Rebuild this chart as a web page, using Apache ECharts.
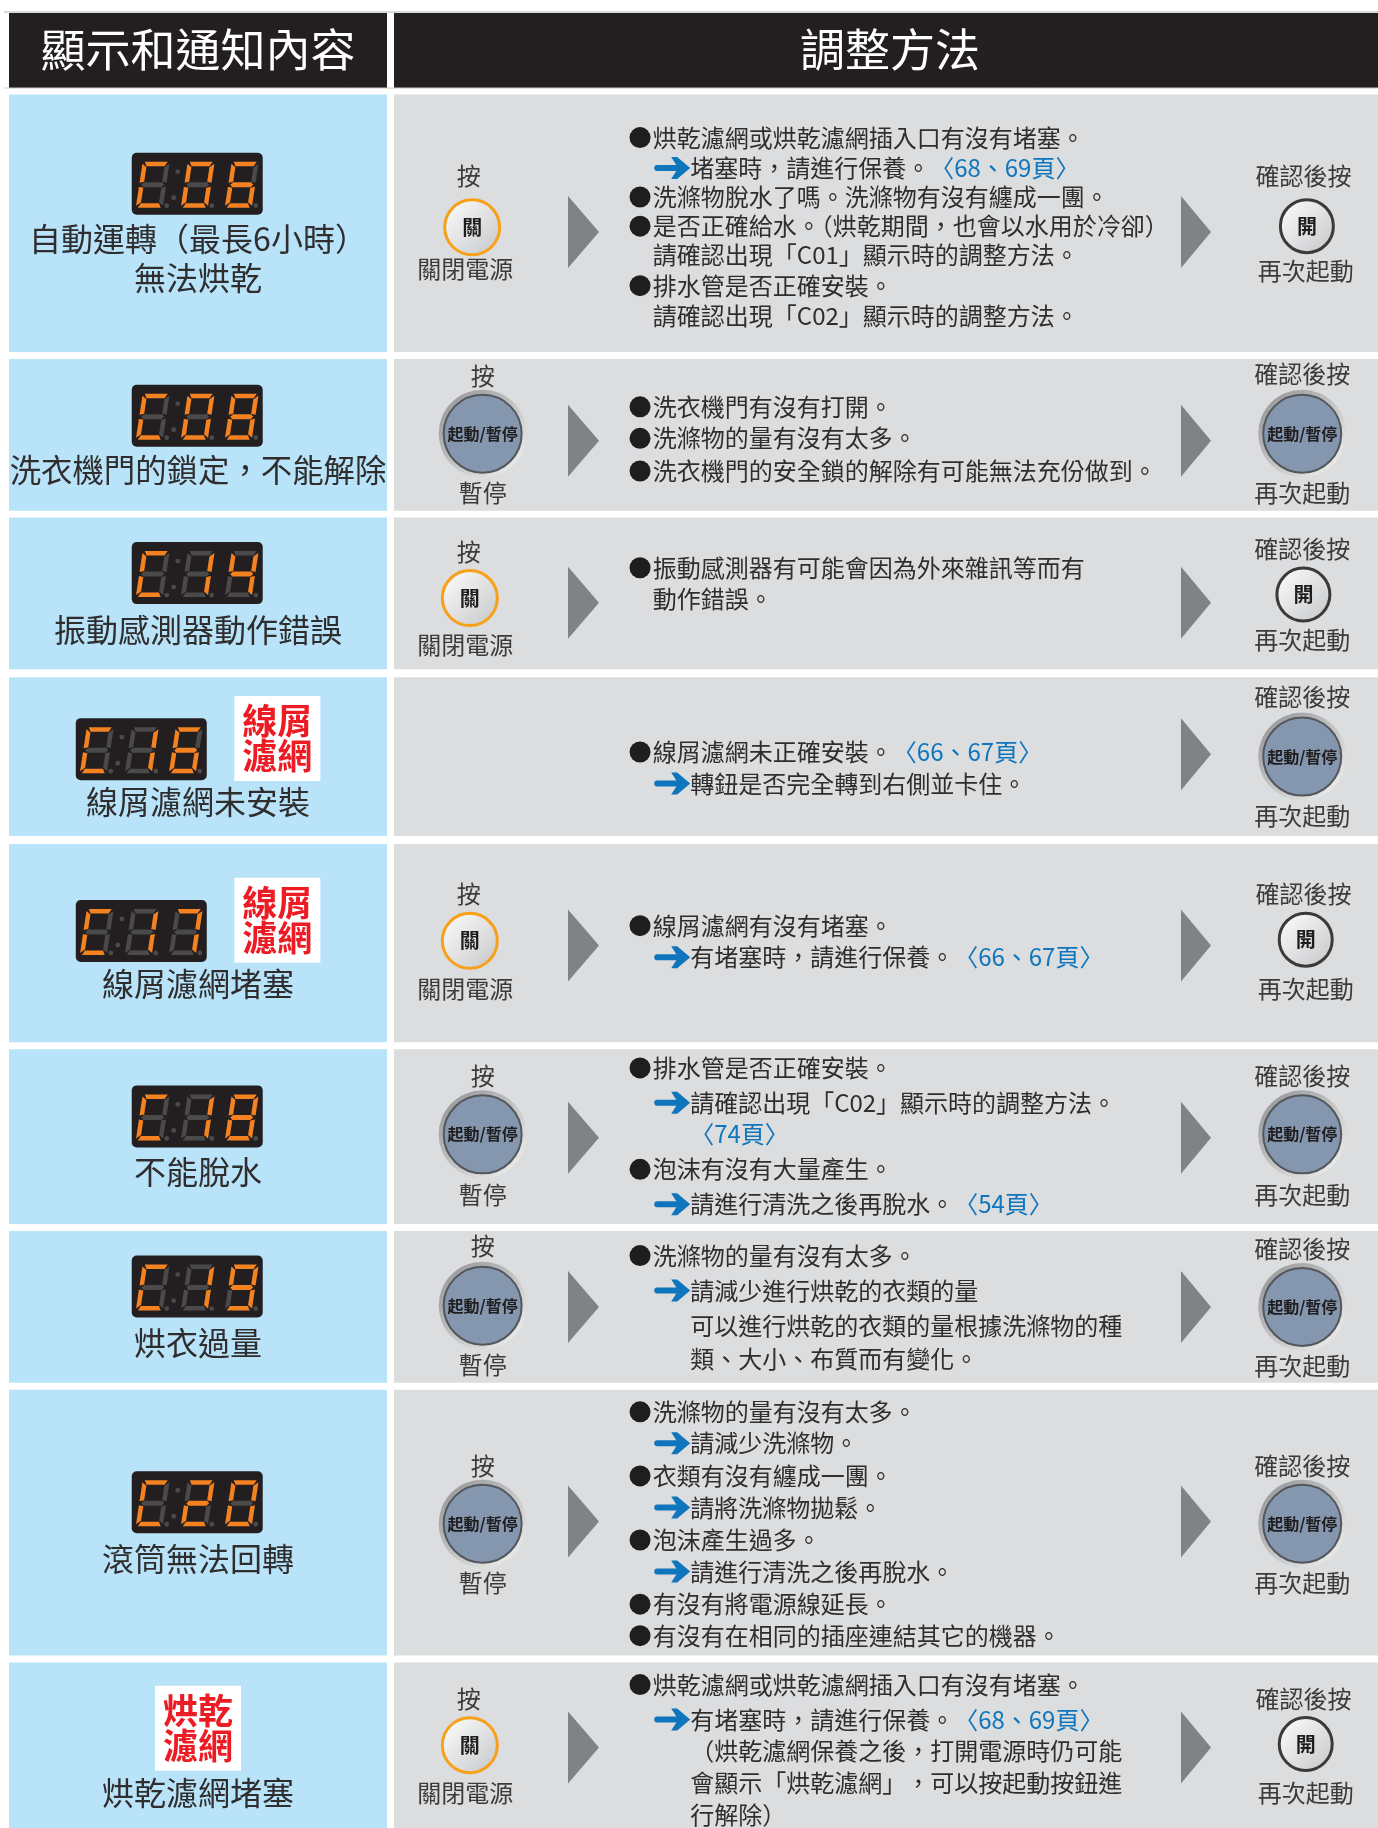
<!DOCTYPE html>
<html>
<head>
<meta charset="utf-8">
<title>顯示和通知內容</title>
<style>
html,body{margin:0;padding:0;background:#fff;}
#main{width:1378px;height:1828px;}
</style>
<script src="https://cdn.jsdelivr.net/npm/echarts@6/dist/echarts.min.js"></script>
</head>
<body>
<div id="main"></div>
<script>
// 表格內容
var headerTitles = ['顯示和通知內容', '調整方法'];
var statusCodes = ['C06', 'C08', 'C14', 'C16', 'C17', 'C18', 'C19', 'C20', null];
var statusLabels = [
    ['自動運轉（最長6小時）', '無法烘乾'],
    ['洗衣機門的鎖定，不能解除'],
    ['振動感測器動作錯誤'],
    ['線屑濾網未安裝'],
    ['線屑濾網堵塞'],
    ['不能脫水'],
    ['烘衣過量'],
    ['滾筒無法回轉'],
    ['烘乾濾網堵塞']
];
var badgeLines = [null, null, null, ['線屑', '濾網'], ['線屑', '濾網'], null, null, null, ['烘乾', '濾網']];
var stepBefore = ['off', 'pause', 'off', null, 'off', 'pause', 'pause', 'pause', 'off'];
var stepAfter = ['on', 'start', 'on', 'start', 'on', 'start', 'start', 'start', 'on'];
var stepTexts = {
    off: ['按', '關', '關閉電源'],
    pause: ['按', '起動/暫停', '暫停'],
    on: ['確認後按', '開', '再次起動'],
    start: ['確認後按', '起動/暫停', '再次起動']
};
// ● 項目  → 箭頭  全形空白 = 對齊箭頭後的文字
var adviceLines = [
    ['●烘乾濾網或烘乾濾網插入口有沒有堵塞。', '→堵塞時，請進行保養。〈68、69頁〉', '●洗滌物脫水了嗎。洗滌物有沒有纏成一團。', '●是否正確給水。（烘乾期間，也會以水用於冷卻）', '請確認出現「C01」顯示時的調整方法。', '●排水管是否正確安裝。', '請確認出現「C02」顯示時的調整方法。'],
    ['●洗衣機門有沒有打開。', '●洗滌物的量有沒有太多。', '●洗衣機門的安全鎖的解除有可能無法充份做到。'],
    ['●振動感測器有可能會因為外來雜訊等而有', '動作錯誤。'],
    ['●線屑濾網未正確安裝。〈66、67頁〉', '→轉鈕是否完全轉到右側並卡住。'],
    ['●線屑濾網有沒有堵塞。', '→有堵塞時，請進行保養。〈66、67頁〉'],
    ['●排水管是否正確安裝。', '→請確認出現「C02」顯示時的調整方法。', '　〈74頁〉', '●泡沫有沒有大量產生。', '→請進行清洗之後再脫水。〈54頁〉'],
    ['●洗滌物的量有沒有太多。', '→請減少進行烘乾的衣類的量', '　可以進行烘乾的衣類的量根據洗滌物的種', '　類、大小、布質而有變化。'],
    ['●洗滌物的量有沒有太多。', '→請減少洗滌物。', '●衣類有沒有纏成一團。', '→請將洗滌物拋鬆。', '●泡沫產生過多。', '→請進行清洗之後再脫水。', '●有沒有將電源線延長。', '●有沒有在相同的插座連結其它的機器。'],
    ['●烘乾濾網或烘乾濾網插入口有沒有堵塞。', '→有堵塞時，請進行保養。〈68、69頁〉', '　（烘乾濾網保養之後，打開電源時仍可能', '　會顯示「烘乾濾網」，可以按起動按鈕進', '　行解除）']
];
var digitSegments = {
    'C': 'adef', '0': 'abcdef', '1': 'bc', '2': 'abdeg', '4': 'bcfg',
    '6': 'acdefg', '7': 'abc', '8': 'abcdefg', '9': 'abcdfg'
};

// 版面（以 1182 寬的座標量測）
var K = 1378 / 1182;
var rowBands = [[81, 302], [308, 438], [444, 574], [581, 717], [724, 894], [900, 1050], [1056, 1186], [1192, 1420], [1426, 1568]];
var lineYs = [
    [118, 144, 169, 194, 219, 245, 271],
    [349, 376, 404],
    [487, 514],
    [645, 672],
    [794, 821],
    [916, 946, 973, 1003, 1033],
    [1077, 1107, 1137, 1166],
    [1211, 1238, 1266, 1293, 1321, 1348, 1376, 1403],
    [1445, 1475, 1502, 1529, 1557]
];
var arrowYs = [199, 378, 517, 647, 811, 976, 1121, 1305, 1499];
var displayPos = [[113, 131], [113, 330], [113, 465], [65, 616], [65, 772], [113, 931], [113, 1077], [113, 1262], null];
var labelYs = [[205, 238], [403], [540], [688], [844], [1005], [1152], [1337], [1538]];
var badgePos = [null, null, null, [201, 597], [201, 753], null, null, null, [133, 1446]];
var beforePos = [
    [402, 151, 405, 195, 399, 231], [414, 322, 414, 372, 414, 423], [402, 473, 403, 513, 399, 553], null,
    [402, 767, 403, 807, 399, 848], [414, 923, 414, 973, 414, 1025], [414, 1069, 414, 1120, 414, 1171],
    [414, 1257, 414, 1307, 414, 1358], [402, 1457, 403, 1497, 399, 1538]
];
var afterPos = [
    [1118, 151, 1121, 194, 1120, 232], [1117, 321, 1117, 372, 1117, 423], [1117, 471, 1118, 510, 1117, 549],
    [1117, 598, 1117, 649, 1117, 700], [1118, 767, 1120, 806, 1120, 848], [1117, 923, 1117, 973, 1117, 1025],
    [1117, 1071, 1117, 1121, 1117, 1172], [1117, 1257, 1117, 1307, 1117, 1358], [1118, 1457, 1120, 1496, 1120, 1538]
];

var FONT = '"Noto Sans CJK TC","Noto Sans CJK SC",sans-serif';
var INK = '#2f2d2e';
var BLUE = '#0f75bc';
var g = [];

function rect(x, y, w, h, fill, r) {
    g.push({ type: 'rect', shape: { x: x, y: y, width: w, height: h, r: r || 0 }, style: { fill: fill } });
}
function text(str, x, y, size, fill, weight, align) {
    g.push({
        type: 'text',
        style: {
            text: str, x: x, y: y, fontSize: size, fontFamily: FONT, fontWeight: weight || 'normal',
            fill: fill || INK, align: align || 'center', verticalAlign: 'middle'
        }
    });
}
function poly(points, fill) {
    g.push({ type: 'polygon', shape: { points: points }, style: { fill: fill } });
}
function grad(a, b) {
    return new echarts.graphic.LinearGradient(0, 0, 1, 1, [{ offset: 0, color: a }, { offset: 1, color: b }]);
}

// 七段顯示器
function digit(x0, y0, ch) {
    var w = 27, h = 46, sk = 7, t = 4.5, m = h / 2;
    var on = digitSegments[ch];
    function P(u, v) { return [x0 + u + sk * (1 - v / h), y0 + v]; }
    var segs = {
        a: [P(2, 0), P(w - 2, 0), P(w - t, t), P(t, t)],
        b: [P(w, 2), P(w, m - 2), P(w - t, m - 3), P(w - t, t + 1)],
        c: [P(w, m + 2), P(w, h - 2), P(w - t, h - t - 1), P(w - t, m + 3)],
        d: [P(2, h), P(w - 2, h), P(w - t, h - t), P(t, h - t)],
        e: [P(0, m + 2), P(0, h - 2), P(t, h - t - 1), P(t, m + 3)],
        f: [P(0, 2), P(0, m - 2), P(t, m - 3), P(t, t + 1)],
        g: [P(2, m), P(t, m - 2.5), P(w - t, m - 2.5), P(w - 2, m), P(w - t, m + 2.5), P(t, m + 2.5)]
    };
    'abcdefg'.split('').forEach(function (s) {
        poly(segs[s], on.indexOf(s) >= 0 ? '#f58220' : '#4a4a4a');
    });
    dot(x0 + w + 4, y0 + h - 2);
}
function dot(x, y) {
    g.push({ type: 'circle', shape: { cx: x, cy: y, r: 2.4 }, style: { fill: '#4a4a4a' } });
}
function display(x, y, code) {
    rect(x, y, 131, 62, '#231f20', 5);
    digit(x + 4, y + 9, 'C');
    digit(x + 49, y + 9, code.charAt(1));
    digit(x + 93, y + 9, code.charAt(2));
    dot(x + 46, y + 19);
    dot(x + 42, y + 45);
}

// 按鈕
function button(kind, x, y) {
    if (kind === 'pause' || kind === 'start') {
        g.push({ type: 'circle', shape: { cx: x, cy: y, r: 44 }, style: { fill: grad('#8f9092', '#f6f6f6') } });
        g.push({ type: 'circle', shape: { cx: x, cy: y, r: 39 }, style: { fill: '#8497af', stroke: '#53575c', lineWidth: 2 } });
        text(stepTexts[kind][1], x, y, 16, '#1f1d1e', 'bold');
    } else {
        var stroke = kind === 'off' ? '#f7a11a' : '#3a3a3a';
        g.push({
            type: 'circle', shape: { cx: x, cy: y, r: kind === 'off' ? 27.5 : 26.5 },
            style: { fill: grad('#ffffff', '#c4c5c7'), stroke: stroke, lineWidth: 3 }
        });
        text(stepTexts[kind][1], x, y, 20, '#1f1d1e', 'bold');
    }
}
function step(kind, p) {
    text(stepTexts[kind][0], p[0] * K, p[1] * K, 24, '#3c3a3b');
    button(kind, p[2] * K, p[3] * K);
    text(stepTexts[kind][2], p[4] * K, p[5] * K, 24, '#3c3a3b');
}

// 建議內容的一行
function blueArrow(x, y) {
    g.push({ type: 'line', shape: { x1: x + 2, y1: y, x2: x + 27, y2: y }, style: { stroke: BLUE, lineWidth: 6, lineCap: 'round' } });
    poly([[x + 16, y - 11], [x + 22, y - 11], [x + 35, y], [x + 22, y + 11], [x + 16, y + 11], [x + 23, y]], BLUE);
}
function adviceLine(str, y) {
    var x = 560 * K;
    var head = str.charAt(0);
    if (head === '●') {
        g.push({ type: 'circle', shape: { cx: 549 * K, cy: y, r: 10.5 }, style: { fill: '#1f1d1e' } });
        str = str.slice(1);
    } else if (head === '→') {
        blueArrow(562 * K, y);
        str = str.slice(1);
        x = 592 * K;
    } else if (head === '　') {
        str = str.slice(1);
        x = 592 * K;
    }
    // 」和，分開畫，字距才會保持全形
    var parts = str.split(/(〈[^〉]*〉|[^」]*」(?=，))/).filter(Boolean).map(function (s) {
        return (s.charAt(0) === '〈' ? '{l|' : '{n|') + s + '}';
    }).join('');
    g.push({
        type: 'text',
        style: {
            text: parts, x: x, y: y, align: 'left', verticalAlign: 'middle',
            rich: {
                n: { fontSize: 24, fontFamily: FONT, fill: INK },
                l: { fontSize: 24, fontFamily: FONT, fill: BLUE }
            }
        }
    });
}

// 標題
rect(9, 13, 378, 75, '#231f20');
rect(394, 13, 984, 75, '#231f20');
g.push({ type: 'line', shape: { x1: 4, y1: 12, x2: 1378, y2: 12 }, style: { stroke: '#b5b5b5', lineWidth: 1 } });
g.push({ type: 'line', shape: { x1: 4, y1: 88, x2: 1378, y2: 88 }, style: { stroke: '#c8c8c8', lineWidth: 1 } });
text(headerTitles[0], 198, 50, 45, '#ffffff');
text(headerTitles[1], 890, 50, 45, '#ffffff');

rowBands.forEach(function (band, i) {
    var y0 = band[0] * K, y1 = band[1] * K;
    rect(9, y0, 378, y1 - y0, '#b8e3f9');
    rect(394, y0, 984, y1 - y0, '#dcddde');

    if (displayPos[i]) display(displayPos[i][0] * K, displayPos[i][1] * K, statusCodes[i]);
    if (badgePos[i]) {
        var bx = badgePos[i][0] * K, by = badgePos[i][1] * K;
        rect(bx, by, 86, 85, '#ffffff');
        text(badgeLines[i][0], bx + 43, by + 25, 35, '#ed1c24', 'bold');
        text(badgeLines[i][1], bx + 43, by + 60, 35, '#ed1c24', 'bold');
    }
    statusLabels[i].forEach(function (s, j) {
        text(s, 198, labelYs[i][j] * K, i === 1 ? 31.4 : 32, INK);
    });

    if (stepBefore[i]) step(stepBefore[i], beforePos[i]);
    step(stepAfter[i], afterPos[i]);

    var ay = arrowYs[i] * K;
    if (stepBefore[i]) poly([[568, ay - 36], [599, ay], [568, ay + 36]], '#808285');
    poly([[1181, ay - 36], [1211, ay], [1181, ay + 36]], '#808285');

    adviceLines[i].forEach(function (s, j) {
        adviceLine(s, lineYs[i][j] * K);
    });
});

var app = echarts.init(document.getElementById('main'));
app.setOption({
    backgroundColor: '#ffffff',
    animation: false,
    graphic: { elements: g }
});
</script>
</body>
</html>
